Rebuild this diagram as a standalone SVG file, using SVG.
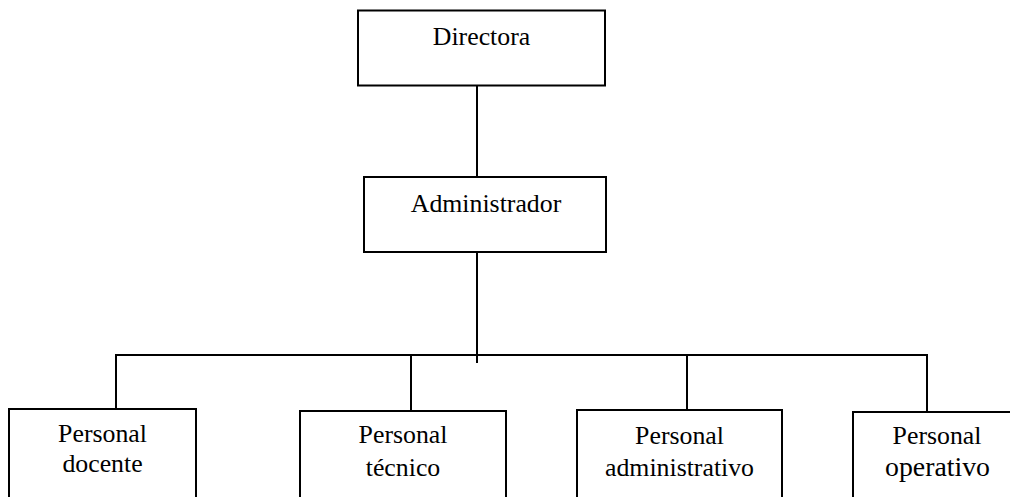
<svg xmlns="http://www.w3.org/2000/svg" width="1010" height="497" viewBox="0 0 1010 497">
<style>
.box{fill:#fff;stroke:#000;stroke-width:2}
.ln{stroke:#000;stroke-width:2;fill:none}
.t{font-family:'Liberation Serif','Tinos','Times New Roman','DejaVu Serif',serif;font-size:25.8px;fill:#000;text-anchor:middle}
</style>
<rect width="1010" height="497" fill="#fff"/>
<g id="connectors">
<line class="ln" x1="477" y1="86" x2="477" y2="177"/>
<line class="ln" x1="477" y1="252" x2="477" y2="363"/>
<line class="ln" x1="115" y1="355" x2="928" y2="355"/>
<line class="ln" x1="116" y1="355" x2="116" y2="409"/>
<line class="ln" x1="411" y1="355" x2="411" y2="411"/>
<line class="ln" x1="687" y1="355" x2="687" y2="410"/>
<line class="ln" x1="927" y1="355" x2="927" y2="412"/>
</g>
<g id="directora">
<rect class="box" x="358" y="10.5" width="247" height="75"/>
<text class="t" font-family="Liberation Serif, serif" x="481.5" y="45">Directora</text>
</g>
<g id="administrador">
<rect class="box" x="364" y="177" width="242" height="75"/>
<text class="t" font-family="Liberation Serif, serif" x="486" y="211.5">Administrador</text>
</g>
<g id="docente">
<rect class="box" x="9" y="409" width="187" height="110"/>
<text class="t" font-family="Liberation Serif, serif" x="102.5" y="442">Personal</text>
<text class="t" font-family="Liberation Serif, serif" x="102.5" y="472">docente</text>
</g>
<g id="tecnico">
<rect class="box" x="300" y="411" width="206" height="110"/>
<text class="t" font-family="Liberation Serif, serif" x="403" y="443">Personal</text>
<text class="t" font-family="Liberation Serif, serif" x="403" y="475.5">técnico</text>
</g>
<g id="administrativo">
<rect class="box" x="577" y="410" width="205" height="110"/>
<text class="t" font-family="Liberation Serif, serif" x="679.5" y="444">Personal</text>
<text class="t" font-family="Liberation Serif, serif" x="679.5" y="475.5">administrativo</text>
</g>
<g id="operativo">
<rect class="box" x="853" y="412" width="168" height="110"/>
<text class="t" font-family="Liberation Serif, serif" x="937" y="444">Personal</text>
<text class="t" font-family="Liberation Serif, serif" x="937.5" y="476" style="font-size:27.8px">operativo</text>
</g>
</svg>
